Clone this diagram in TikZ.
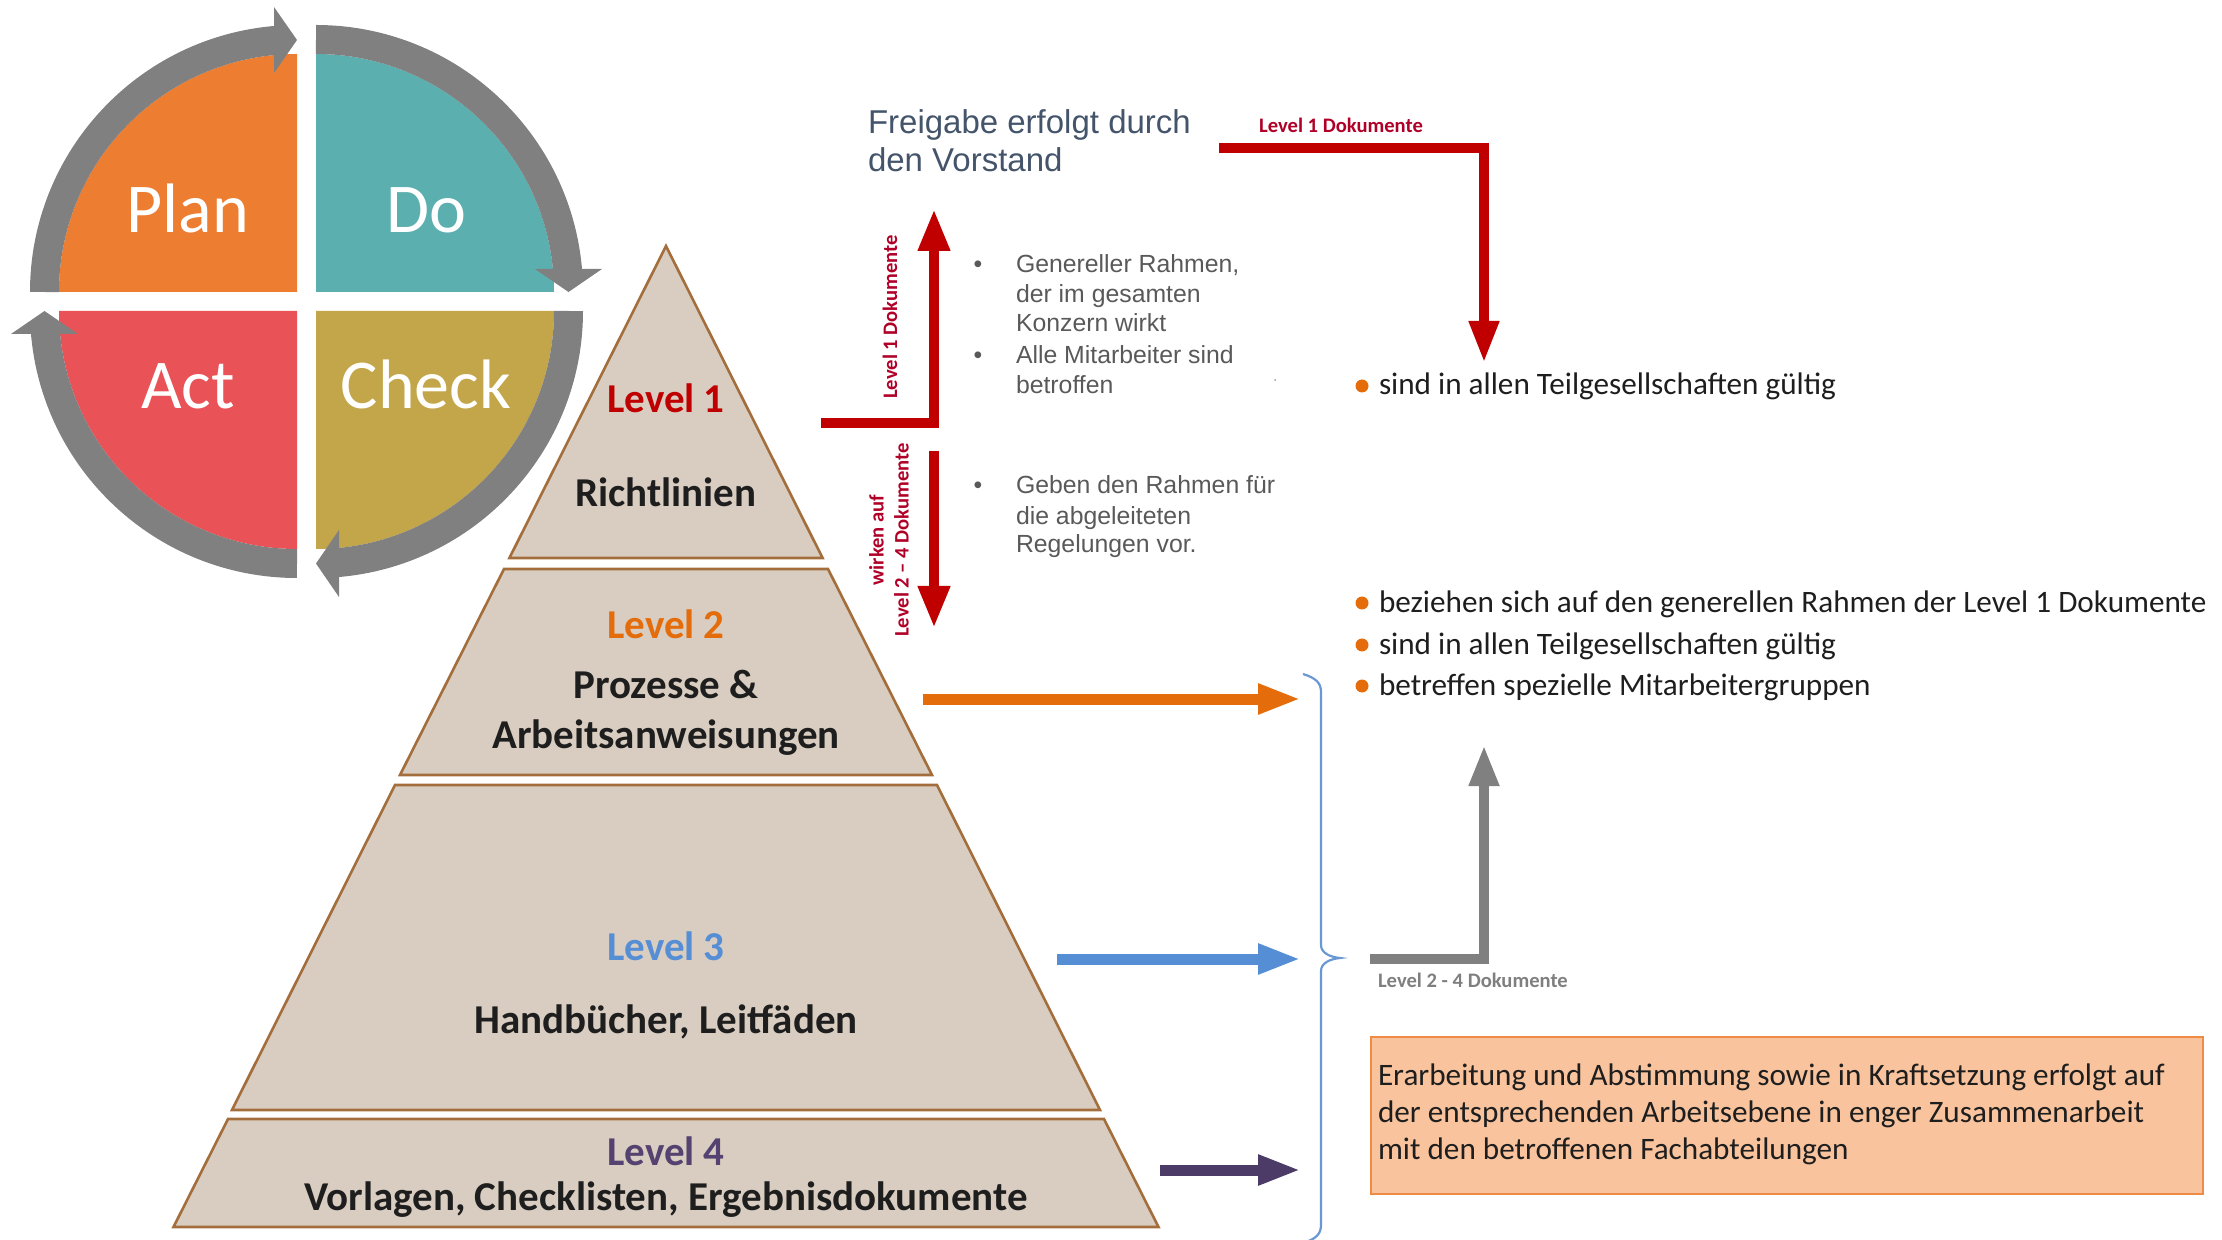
\documentclass[tikz,border=0pt]{standalone}
\usepackage{fontspec}
\setmainfont{Carlito}
\newfontfamily\arialf{Liberation Sans}
\usetikzlibrary{arrows.meta,calc}
\definecolor{planc}{HTML}{ED7D31}
\definecolor{doc}{HTML}{5BAFAE}
\definecolor{actc}{HTML}{E95256}
\definecolor{checkc}{HTML}{C4A64A}
\definecolor{ringc}{HTML}{808080}
\definecolor{pyrfill}{HTML}{D8CDC0}
\definecolor{pyrline}{HTML}{A36E3C}
\definecolor{lvred}{HTML}{C00000}
\definecolor{lblred}{HTML}{B00028}
\definecolor{lvorange}{HTML}{E46C0A}
\definecolor{lvblue}{HTML}{558ED5}
\definecolor{lvpurple}{HTML}{554270}
\definecolor{arrpurple}{HTML}{4B3B66}
\definecolor{txtgray}{HTML}{595959}
\definecolor{headc}{HTML}{44546A}
\definecolor{darktext}{HTML}{1E1E1E}
\definecolor{boxfill}{HTML}{F8C39D}
\definecolor{boxline}{HTML}{EE8B45}
\definecolor{bracec}{HTML}{6A98D4}
\definecolor{gray7f}{HTML}{7F7F7F}
\begin{document}
\begin{tikzpicture}[x=0.5pt,y=0.5pt,
  every node/.style={inner sep=0pt,outer sep=0pt},
  pdcatext/.style={text=white,font=\fontsize{35}{40}\selectfont,anchor=base},
  ring/.style={draw=ringc,line width=14.5pt},
  pyr/.style={fill=pyrfill,draw=pyrline,line width=1.3pt,line join=miter},
  lvl/.style={anchor=base,text=darktext,font=\bfseries\fontsize{20.5}{24}\selectfont},
  headtext/.style={anchor=base west,text=headc,font=\arialf\fontsize{16.5}{19}\selectfont},
  gtext/.style={anchor=base west,text=txtgray,font=\arialf\fontsize{12.4}{15}\selectfont},
  gbul/.style={anchor=base,text=txtgray,font=\arialf\fontsize{12.4}{15}\selectfont},
  redarrow/.style={draw=lvred,line width=5pt,line join=miter,-{Triangle[width=15pt,length=21pt]}},
  smalllbl/.style={text=lblred,font=\bfseries\fontsize{10.3}{12.5}\selectfont},
  btext/.style={anchor=base west,text=darktext,font=\fontsize{15.6}{18}\selectfont},
  odot/.style={circle,fill=lvorange,minimum size=6.5pt},
  parrow/.style={line width=5.5pt,-{Triangle[width=14pt,length=21.5pt]}},
  grayarrow/.style={draw=ringc,line width=5pt,line join=miter,-{Triangle[width=14pt,length=20.5pt]}},
  boxstyle/.style={draw=boxline,fill=boxfill,line width=1pt,minimum width=416pt,minimum height=78.5pt,anchor=north west}
]
\useasboundingbox (0,0) rectangle (2222,-1240);

% ---------- PDCA circle ----------
\fill[planc] (297,-292) -- (59,-292) arc (180:90:238) -- cycle;
\fill[doc] (316,-292) -- (316,-54) arc (90:0:238) -- cycle;
\fill[checkc] (316,-311) -- (554,-311) arc (0:-90:238) -- cycle;
\fill[actc] (297,-311) -- (297,-549) arc (-90:-180:238) -- cycle;

\draw[ring] (44.5,-292) arc (180:94:252.5);
\fill[ringc] (274,-7) -- (297,-40) -- (274,-73) -- cycle;
\draw[ring] (316,-39.5) arc (90:4:252.5);
\fill[ringc] (535,-269) -- (568.5,-292) -- (602,-269) -- cycle;
\draw[ring] (568.5,-311) arc (0:-86:252.5);
\fill[ringc] (339,-530) -- (316,-563.5) -- (339,-597) -- cycle;
\draw[ring] (297,-563.5) arc (-90:-176:252.5);
\fill[ringc] (11,-334) -- (44.5,-311) -- (78,-334) -- cycle;

\node[pdcatext] (plan) at (188,-233) {Plan};
\node[pdcatext] (do) at (426,-233) {Do};
\node[pdcatext] (act) at (188,-409) {Act};
\node[pdcatext] (check) at (426,-409) {Check};

% ---------- Pyramid ----------
\draw[pyr] (666,-246) -- (822.6,-558) -- (509.4,-558) -- cycle;
\draw[pyr] (504,-569) -- (828,-569) -- (932,-775) -- (400,-775) -- cycle;
\draw[pyr] (395,-785) -- (937,-785) -- (1100,-1110) -- (232,-1110) -- cycle;
\draw[pyr] (228,-1119) -- (1104,-1119) -- (1158.5,-1227) -- (173.5,-1227) -- cycle;

\node[lvl,text=lvred] (l1) at (666,-413) {Level 1};
\node[lvl] (l1t) at (666,-507) {Richtlinien};
\node[lvl,text=lvorange] (l2) at (666,-639) {Level 2};
\node[lvl] (l2a) at (666,-698) {Prozesse \&};
\node[lvl] (l2b) at (666,-748) {Arbeitsanweisungen};
\node[lvl,text=lvblue] (l3) at (666,-960) {Level 3};
\node[lvl] (l3t) at (666,-1033) {Handbücher, Leitfäden};
\node[lvl,text=lvpurple] (l4) at (666,-1165) {Level 4};
\node[lvl] (l4t) at (666,-1210) {Vorlagen, Checklisten, Ergebnisdokumente};

% ---------- Freigabe + bullets ----------
\node[headtext] (fr1) at (868,-134) {Freigabe erfolgt durch};
\node[headtext] (fr2) at (868,-172) {den Vorstand};

\node[gbul] (b1) at (978,-273) {•};
\node[gtext] (g1) at (1016,-273) {Genereller Rahmen,};
\node[gtext] (g2) at (1016,-303) {der im gesamten};
\node[gtext] (g3) at (1016,-332) {Konzern wirkt};
\node[gbul] (b2) at (978,-364) {•};
\node[gtext] (g4) at (1016,-364) {Alle Mitarbeiter sind};
\node[gtext] (g5) at (1016,-394) {betroffen};
\node[gbul] (b3) at (978,-494) {•};
\node[gtext] (g6) at (1016,-494) {Geben den Rahmen für};
\node[gtext] (g7) at (1016,-525) {die abgeleiteten};
\node[gtext] (g8) at (1016,-553) {Regelungen vor.};
\node[circle,fill=txtgray!60,minimum size=1pt] (stray) at (1275,-380) {};

% ---------- red arrows ----------
\coordinate (r1s) at (821,-423);
\coordinate (r1k) at (934,-423);
\coordinate (r1e) at (934,-209);
\draw[redarrow] (r1s) -- (r1k) -- (r1e);
\coordinate (r2s) at (934,-451);
\coordinate (r2e) at (934,-628);
\draw[redarrow] (r2s) -- (r2e);
\coordinate (r3s) at (1219,-148);
\coordinate (r3k) at (1484,-148);
\coordinate (r3e) at (1484,-363);
\draw[redarrow,-{Triangle[width=14pt,length=21pt]}] (r3s) -- (r3k) -- (r3e);

\node[smalllbl,rotate=90] (lab1) at (890,-317) {Level 1 Dokumente};
\node[smalllbl,rotate=90,align=center] (lab2) at (889,-540) {wirken auf\\Level 2 – 4 Dokumente};
\node[smalllbl,anchor=base] (lab3) at (1341,-133) {Level 1 Dokumente};

% ---------- right bullets ----------
\node[odot] (d1) at (1362,-386) {};
\node[btext] (t1) at (1379,-395) {sind in allen Teilgesellschaften gültig};
\node[odot] (d2) at (1362,-603) {};
\node[btext] (t2) at (1379,-612) {beziehen sich auf den generellen Rahmen der Level 1 Dokumente};
\node[odot] (d3) at (1362,-645) {};
\node[btext] (t3) at (1379,-654) {sind in allen Teilgesellschaften gültig};
\node[odot] (d4) at (1362,-686) {};
\node[btext] (t4) at (1379,-695) {betreffen spezielle Mitarbeitergruppen};

% ---------- pyramid arrows and brace ----------
\coordinate (o1) at (923,-699);
\coordinate (o2) at (1301,-699);
\draw[parrow,draw=lvorange] (o1) -- (o2);
\coordinate (bl1) at (1057,-959);
\coordinate (bl2) at (1301,-959);
\draw[parrow,draw=lvblue] (bl1) -- (bl2);
\coordinate (p1) at (1160,-1170);
\coordinate (p2) at (1301,-1170);
\draw[parrow,draw=arrpurple] (p1) -- (p2);

\draw[bracec,line width=1.1pt] (1303,-674) .. controls (1316,-678) and (1321,-683) .. (1321,-692)
  -- (1321,-945) .. controls (1321,-953) and (1330,-957) .. (1340,-958)
  .. controls (1330,-959) and (1321,-963) .. (1321,-971)
  -- (1321,-1225) .. controls (1321,-1234) and (1316,-1239) .. (1303,-1243);

\coordinate (g1s) at (1370,-959);
\coordinate (g1k) at (1484,-959);
\coordinate (g1e) at (1484,-745);
\draw[grayarrow] (g1s) -- (g1k) -- (g1e);
\node[anchor=base west,text=gray7f,font=\bfseries\fontsize{10.3}{12}\selectfont] (lab4) at (1378,-987) {Level 2 - 4 Dokumente};

% ---------- box ----------
\node[boxstyle] (box) at (1371,-1037) {};
\node[btext] (x1) at (1378,-1085) {Erarbeitung und Abstimmung sowie in Kraftsetzung erfolgt auf};
\node[btext] (x2) at (1378,-1122) {der entsprechenden Arbeitsebene in enger Zusammenarbeit};
\node[btext] (x3) at (1378,-1159) {mit den betroffenen Fachabteilungen};
\end{tikzpicture}
\end{document}
